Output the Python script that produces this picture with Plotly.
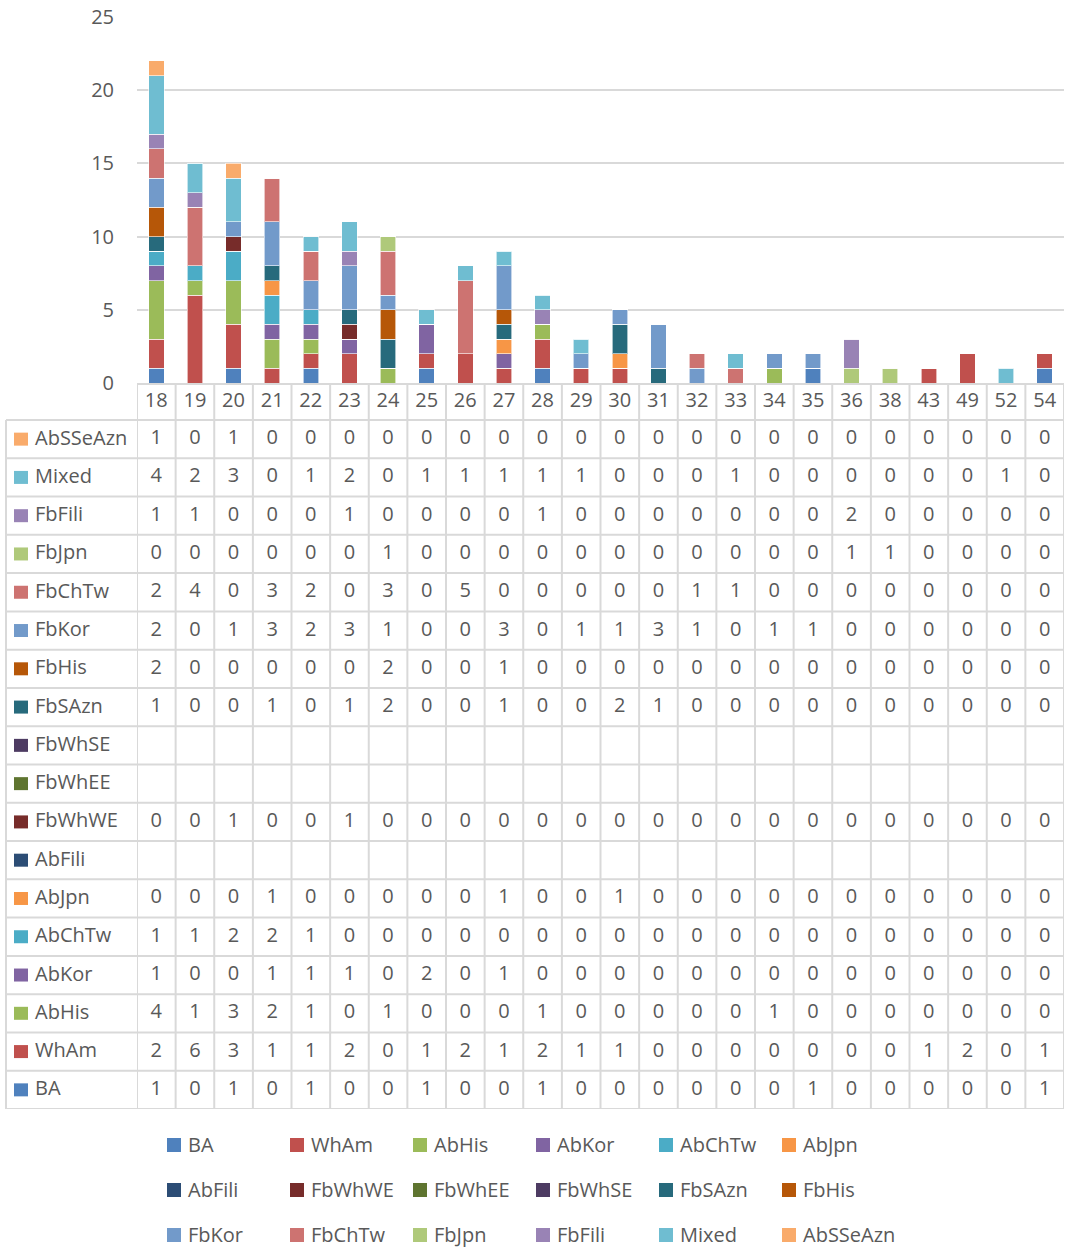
import plotly.graph_objects as go

# Age categories along the horizontal axis
categories = ["18", "19", "20", "21", "22", "23", "24", "25", "26", "27", "28", "29",
              "30", "31", "32", "33", "34", "35", "36", "38", "43", "49", "52", "54"]

# Counts per group (stacking order: bottom first); None = no entry in the table
BA       = [1, 0, 1, 0, 1, 0, 0, 1, 0, 0, 1, 0, 0, 0, 0, 0, 0, 1, 0, 0, 0, 0, 0, 1]
WhAm     = [2, 6, 3, 1, 1, 2, 0, 1, 2, 1, 2, 1, 1, 0, 0, 0, 0, 0, 0, 0, 1, 2, 0, 1]
AbHis    = [4, 1, 3, 2, 1, 0, 1, 0, 0, 0, 1, 0, 0, 0, 0, 0, 1, 0, 0, 0, 0, 0, 0, 0]
AbKor    = [1, 0, 0, 1, 1, 1, 0, 2, 0, 1, 0, 0, 0, 0, 0, 0, 0, 0, 0, 0, 0, 0, 0, 0]
AbChTw   = [1, 1, 2, 2, 1, 0, 0, 0, 0, 0, 0, 0, 0, 0, 0, 0, 0, 0, 0, 0, 0, 0, 0, 0]
AbJpn    = [0, 0, 0, 1, 0, 0, 0, 0, 0, 1, 0, 0, 1, 0, 0, 0, 0, 0, 0, 0, 0, 0, 0, 0]
AbFili   = [None] * 24
FbWhWE   = [0, 0, 1, 0, 0, 1, 0, 0, 0, 0, 0, 0, 0, 0, 0, 0, 0, 0, 0, 0, 0, 0, 0, 0]
FbWhEE   = [None] * 24
FbWhSE   = [None] * 24
FbSAzn   = [1, 0, 0, 1, 0, 1, 2, 0, 0, 1, 0, 0, 2, 1, 0, 0, 0, 0, 0, 0, 0, 0, 0, 0]
FbHis    = [2, 0, 0, 0, 0, 0, 2, 0, 0, 1, 0, 0, 0, 0, 0, 0, 0, 0, 0, 0, 0, 0, 0, 0]
FbKor    = [2, 0, 1, 3, 2, 3, 1, 0, 0, 3, 0, 1, 1, 3, 1, 0, 1, 1, 0, 0, 0, 0, 0, 0]
FbChTw   = [2, 4, 0, 3, 2, 0, 3, 0, 5, 0, 0, 0, 0, 0, 1, 1, 0, 0, 0, 0, 0, 0, 0, 0]
FbJpn    = [0, 0, 0, 0, 0, 0, 1, 0, 0, 0, 0, 0, 0, 0, 0, 0, 0, 0, 1, 1, 0, 0, 0, 0]
FbFili   = [1, 1, 0, 0, 0, 1, 0, 0, 0, 0, 1, 0, 0, 0, 0, 0, 0, 0, 2, 0, 0, 0, 0, 0]
Mixed    = [4, 2, 3, 0, 1, 2, 0, 1, 1, 1, 1, 1, 0, 0, 0, 1, 0, 0, 0, 0, 0, 0, 1, 0]
AbSSeAzn = [1, 0, 1, 0, 0, 0, 0, 0, 0, 0, 0, 0, 0, 0, 0, 0, 0, 0, 0, 0, 0, 0, 0, 0]

series = [
    ("BA", BA, "#4F81BD"),
    ("WhAm", WhAm, "#C0504D"),
    ("AbHis", AbHis, "#9BBB59"),
    ("AbKor", AbKor, "#8064A2"),
    ("AbChTw", AbChTw, "#4BACC6"),
    ("AbJpn", AbJpn, "#F79646"),
    ("AbFili", AbFili, "#2C4D75"),
    ("FbWhWE", FbWhWE, "#772C2A"),
    ("FbWhEE", FbWhEE, "#5F7530"),
    ("FbWhSE", FbWhSE, "#4D3B62"),
    ("FbSAzn", FbSAzn, "#276A7C"),
    ("FbHis", FbHis, "#B65708"),
    ("FbKor", FbKor, "#729ACA"),
    ("FbChTw", FbChTw, "#CD7371"),
    ("FbJpn", FbJpn, "#AFC97A"),
    ("FbFili", FbFili, "#9983B5"),
    ("Mixed", Mixed, "#6FBDD1"),
    ("AbSSeAzn", AbSSeAzn, "#F9AB6B"),
]

W, H = 1065, 1250
TEXT = "#595959"
GRID = "#D9D9D9"
FONT = "Open Sans"
FS = 20

# pixel layout of the plot area and the data table beneath it
PLOT_L, PLOT_R, PLOT_T, AXIS_Y, TABLE_B, TABLE_L = 137, 1064, 17, 383, 1109, 6
ROW_H = (TABLE_B - 420) / len(series)
HEADER = (420 - AXIS_Y) / ROW_H

fig = go.Figure()

for i, (name, vals, col) in enumerate(series):
    fig.add_trace(go.Bar(
        x=categories, y=vals, name=name,
        marker=dict(color=col, line=dict(color="rgba(255,255,255,0.6)", width=1)),
        xaxis="x", yaxis="y", showlegend=False,
    ))

# table cell values: row 0 is the top series in the stack
n = len(series)
cell_x, cell_y, cell_t = [], [], []
for i, (name, vals, col) in enumerate(series):
    row = n - 1 - i
    for c, v in zip(categories, vals):
        if v is not None:
            cell_x.append(c)
            cell_y.append(row + 0.5)
            cell_t.append(str(v))
fig.add_trace(go.Scatter(
    x=cell_x, y=cell_y, text=cell_t, mode="text",
    textfont=dict(family=FONT, size=FS, color=TEXT),
    xaxis="x", yaxis="y2", showlegend=False, hoverinfo="skip",
))
# header row with the category labels
fig.add_trace(go.Scatter(
    x=categories, y=[-HEADER / 2] * len(categories), text=categories, mode="text",
    textfont=dict(family=FONT, size=FS, color=TEXT),
    xaxis="x", yaxis="y2", showlegend=False, hoverinfo="skip",
))

shapes = []
line = dict(color=GRID, width=2)
# horizontal table rules
for k in range(n + 1):
    shapes.append(dict(type="line", xref="paper", yref="y2",
                       x0=TABLE_L / W, x1=PLOT_R / W, y0=k, y1=k, line=line))
# vertical table rules between categories
for k in range(len(categories) + 1):
    shapes.append(dict(type="line", xref="x", yref="y2",
                       x0=k - 0.5, x1=k - 0.5, y0=-HEADER, y1=n, line=line))
shapes.append(dict(type="line", xref="paper", yref="y2",
                   x0=TABLE_L / W, x1=TABLE_L / W, y0=0, y1=n, line=line))

# row headers: colour key + series name
annotations = []
for i, (name, vals, col) in enumerate(series):
    row = n - 1 - i
    half = 6.5 / ROW_H
    shapes.append(dict(type="rect", xref="paper", yref="y2",
                       x0=14 / W, x1=28 / W, y0=row + 0.5 - half, y1=row + 0.5 + half,
                       fillcolor=col, line=dict(width=0)))
    annotations.append(dict(xref="paper", yref="y2", x=33 / W, y=row + 0.5, yshift=2,
                            text=name, showarrow=False, xanchor="left", yanchor="middle",
                            font=dict(family=FONT, size=FS, color=TEXT)))

# key below the table: three rows of six entries
KEY_X0, KEY_DX, KEY_ROWS, SW = 167, 123, [1145, 1190, 1235], 14
for i, (name, vals, col) in enumerate(series):
    r, c = divmod(i, 6)
    px, py = KEY_X0 + c * KEY_DX, KEY_ROWS[r]
    shapes.append(dict(type="rect", xref="paper", yref="paper",
                       x0=px / W, x1=(px + SW) / W,
                       y0=1 - (py + SW / 2) / H, y1=1 - (py - SW / 2) / H,
                       fillcolor=col, line=dict(width=0)))
    annotations.append(dict(xref="paper", yref="paper", x=(px + 19) / W, y=1 - py / H, yshift=1,
                            text=name, showarrow=False, xanchor="left", yanchor="middle",
                            font=dict(family=FONT, size=FS, color=TEXT)))

fig.update_layout(
    width=W, height=H,
    margin=dict(l=0, r=0, t=0, b=0),
    paper_bgcolor="white", plot_bgcolor="white",
    barmode="stack", bargap=0.6,
    font=dict(family=FONT, size=FS, color=TEXT),
    xaxis=dict(domain=[PLOT_L / W, PLOT_R / W], type="category", range=[-0.5, len(categories) - 0.5],
               showticklabels=False, showgrid=False, zeroline=False, ticks="",
               showline=True, linecolor=GRID, linewidth=2, anchor="y", fixedrange=True),
    yaxis=dict(domain=[1 - AXIS_Y / H, 1 - PLOT_T / H], range=[0, 25], dtick=5,
               showgrid=True, gridcolor=GRID, gridwidth=2, zeroline=False, showline=False,
               ticks="", ticklabelstandoff=22, tickfont=dict(family=FONT, size=FS, color=TEXT),
               anchor="x", fixedrange=True, automargin=False),
    yaxis2=dict(domain=[1 - TABLE_B / H, 1 - AXIS_Y / H], range=[n, -HEADER],
                visible=False, anchor="x", fixedrange=True),
    shapes=shapes,
    annotations=annotations,
    showlegend=False,
)

fig.write_html("out.html")
